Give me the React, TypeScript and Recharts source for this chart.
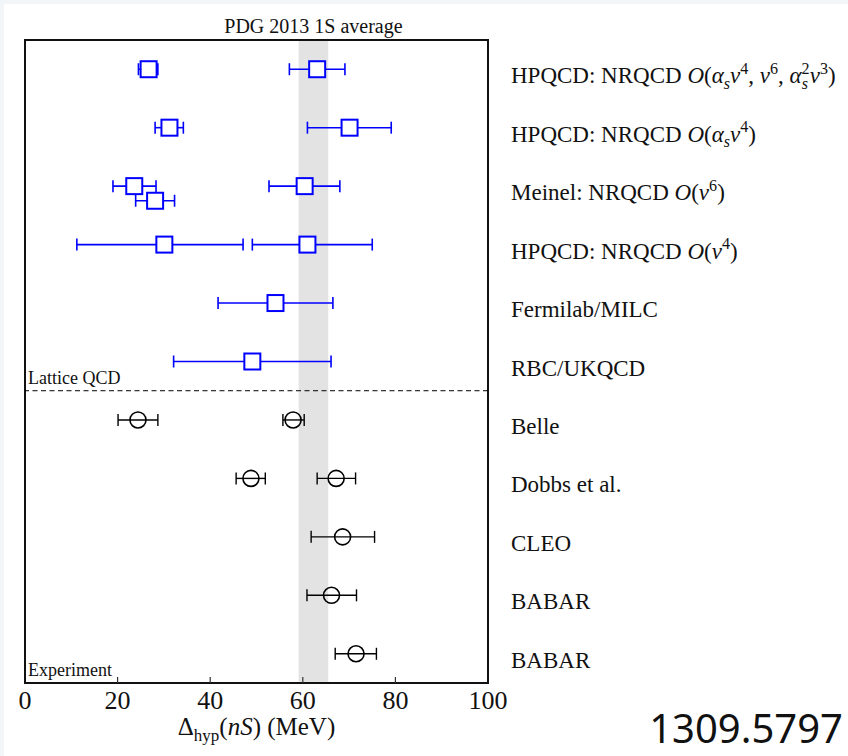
import React from 'react';
import {
  ComposedChart,
  Scatter,
  XAxis,
  YAxis,
  ErrorBar,
  ReferenceArea,
  ReferenceLine,
  Label,
} from 'recharts';

const SERIF = '"Liberation Serif", "Times New Roman", Times, serif';

// Row labels, top (index 10) to bottom (index 0). Math between $...$
const rowLabels = [
  'HPQCD: NRQCD $\\O(\\alpha_sv^4, v^6, \\alpha_s^2v^3)$',
  'HPQCD: NRQCD $\\O(\\alpha_sv^4)$',
  'Meinel: NRQCD $\\O(v^6)$',
  'HPQCD: NRQCD $\\O(v^4)$',
  'Fermilab/MILC',
  'RBC/UKQCD',
  'Belle',
  'Dobbs et al.',
  'CLEO',
  'BABAR',
  'BABAR',
];
const rowTicks = [10, 9, 8, 7, 6, 5, 4, 3, 2, 1, 0];
const xTicks = [0, 20, 40, 60, 80, 100];

// Lattice QCD results (blue squares)
const latticeRow = [10, 10, 9, 9, 8, 8, 7.75, 7, 7, 6, 5];
const latticeValue = [26.7, 63.1, 31.2, 70.1, 23.6, 60.4, 28.1, 30.1, 61.0, 54.1, 49.1];
const latticeErrLow = [2.2, 6.0, 3.1, 9.1, 4.6, 7.7, 4.2, 18.9, 11.9, 12.4, 17.0];
const latticeErrHigh = [2.0, 6.0, 3.0, 9.0, 4.7, 7.6, 4.2, 17.0, 14.0, 12.4, 17.0];

// Experimental results (black circles)
const expRow = [4, 4, 3, 3, 2, 1, 0];
const expValue = [24.4, 57.9, 48.8, 67.2, 68.6, 66.2, 71.5];
const expErrLow = [4.3, 2.2, 3.2, 4.1, 6.8, 5.3, 4.5];
const expErrHigh = [4.3, 2.4, 3.1, 4.2, 6.9, 5.4, 4.4];

// PDG 2013 1S average band
const pdgLow = 59.1;
const pdgHigh = 65.5;
const sectionDivider = 4.5;

const latticeData = latticeValue.map((v, i) => ({
  x: v,
  y: latticeRow[i],
  err: [latticeErrLow[i], latticeErrHigh[i]],
}));
const expData = expValue.map((v, i) => ({
  x: v,
  y: expRow[i],
  err: [expErrLow[i], expErrHigh[i]],
}));

type Seg = { t: string; it?: boolean; pos?: 'sub' | 'sup' };

function parseLabel(s: string): Seg[] {
  const out: Seg[] = [];
  s.split('$').forEach((p, i) => {
    if (i % 2 === 0) {
      if (p) out.push({ t: p });
      return;
    }
    let k = 0;
    let pending: 'sub' | 'sup' | undefined;
    while (k < p.length) {
      const ch = p[k];
      if (ch === '_') { pending = 'sub'; k++; continue; }
      if (ch === '^') { pending = 'sup'; k++; continue; }
      let tok = ch;
      let it = /[A-Za-z]/.test(ch);
      if (ch === '\\') {
        const m = /^\\([A-Za-z]+)/.exec(p.slice(k));
        const name = m ? m[1] : '';
        tok = name === 'alpha' ? 'α' : name === 'O' ? 'O' : name;
        it = true;
        k += m ? m[0].length : 1;
      } else {
        k++;
      }
      out.push({ t: tok, it, pos: pending });
      pending = undefined;
    }
  });
  return out;
}

const parsedLabels = rowLabels.map(parseLabel);

function MathText({ x, y, segs, size }: { x: number; y: number; segs: Seg[]; size: number }) {
  const offs: Record<string, number> = { sub: size * 0.25, sup: -size * 0.4 };
  let cur = 0;
  const nodes: React.ReactNode[] = [];
  segs.forEach((s, i) => {
    const target = s.pos ? offs[s.pos] : 0;
    const dy = target - cur;
    cur = target;
    const prev = segs[i - 1];
    const dx = s.pos === 'sup' && prev && prev.pos === 'sub' ? -size * 0.7 * 0.39 : 0;
    nodes.push(
      <tspan
        key={i}
        dy={dy}
        dx={dx || undefined}
        fontStyle={s.it ? 'italic' : 'normal'}
        fontSize={s.pos ? size * 0.7 : size}
      >
        {s.t}
      </tspan>
    );
  });
  return (
    <text x={x} y={y} fontFamily={SERIF} fontSize={size} fill="#111" style={{ whiteSpace: 'pre' }}>
      {nodes}
    </text>
  );
}

const RowTick = (p: any) => {
  const idx = rowTicks.indexOf(p.payload.value);
  if (idx < 0) return null;
  return <MathText x={p.x} y={p.y + 14} segs={parsedLabels[idx]} size={23} />;
};

const BOTTOM_MARGIN = 26;
const BottomTick = (p: any) => {
  const v = p.payload.value;
  const inner = v !== 0 && v !== 100;
  return (
    <g>
      {inner && (
        <line
          x1={p.x}
          x2={p.x}
          y1={p.y - BOTTOM_MARGIN}
          y2={p.y - BOTTOM_MARGIN - 6}
          stroke="#333"
          strokeWidth={1.2}
        />
      )}
      <text x={p.x} y={p.y} textAnchor="middle" fontFamily={SERIF} fontSize={26} fill="#111">
        {v}
      </text>
    </g>
  );
};

const TopTick = (p: any) => {
  const v = p.payload.value;
  if (v === 0 || v === 100) return null;
  return <line x1={p.x} x2={p.x} y1={p.y} y2={p.y + 6} stroke="#333" strokeWidth={1.2} />;
};

const XAxisTitle = (p: any) => {
  const vb = p.viewBox;
  const cx = vb.x + vb.width / 2;
  const y = vb.y + 52;
  return (
    <text x={cx} y={y} textAnchor="middle" fontFamily={SERIF} fontSize={25} fill="#111" style={{ whiteSpace: 'pre' }}>
      <tspan>Δ</tspan>
      <tspan dy={6} fontSize={17}>hyp</tspan>
      <tspan dy={-6}>(</tspan>
      <tspan fontStyle="italic">nS</tspan>
      <tspan>) (MeV)</tspan>
    </text>
  );
};

const LatticeLabel = (p: any) => {
  const vb = p.viewBox;
  return (
    <text x={vb.x + 3} y={vb.y - 7} fontFamily={SERIF} fontSize={18} fill="#111">
      Lattice QCD
    </text>
  );
};

const ExperimentLabel = (p: any) => {
  const vb = p.viewBox;
  return (
    <text x={vb.x + 3} y={vb.y + vb.height - 7} fontFamily={SERIF} fontSize={18} fill="#111">
      Experiment
    </text>
  );
};

const Square = (p: any) => (
  <rect x={p.cx - 8} y={p.cy - 8} width={16} height={16} fill="#fff" stroke="#0000ff" strokeWidth={2} />
);
const Circle = (p: any) => (
  <circle cx={p.cx} cy={p.cy} r={8} fill="none" stroke="#000" strokeWidth={1.6} />
);

export default function App() {
  return (
    <div style={{ position: 'absolute', left: 0, top: 0, width: 848, height: 756, background: '#f2f6f9' }}>
      <div style={{ position: 'absolute', left: 4, top: 4, width: 844, height: 752, background: '#fff' }} />
      <div style={{ position: 'absolute', left: 0, top: 0 }}>
        <ComposedChart width={848} height={756} margin={{ top: 30, right: 0, bottom: 33, left: 25 }}>
          <XAxis
            type="number"
            dataKey="x"
            domain={[0, 100]}
            ticks={xTicks}
            interval={0}
            height={40}
            tickSize={0}
            tickMargin={BOTTOM_MARGIN}
            axisLine={false}
            tickLine={false}
            tick={<BottomTick />}
            allowDataOverflow
          >
            <Label content={<XAxisTitle />} />
          </XAxis>
          <XAxis
            xAxisId="top"
            orientation="top"
            type="number"
            domain={[0, 100]}
            ticks={xTicks}
            interval={0}
            height={10}
            tickSize={0}
            tickMargin={0}
            axisLine={false}
            tickLine={false}
            tick={<TopTick />}
            allowDataOverflow
          />
          <YAxis
            orientation="right"
            type="number"
            dataKey="y"
            domain={[-0.5, 10.5]}
            ticks={rowTicks}
            interval={0}
            width={360}
            tickSize={0}
            tickMargin={23}
            axisLine={false}
            tickLine={false}
            tick={<RowTick />}
            allowDataOverflow
          />
          <ReferenceArea
            x1={pdgLow}
            x2={pdgHigh}
            fill="#e3e3e3"
            fillOpacity={1}
            stroke="none"
            ifOverflow="visible"
            label={{
              value: 'PDG 2013 1S average',
              position: 'top',
              offset: 7,
              fontSize: 20,
              fontFamily: SERIF,
              fill: '#111',
            }}
          />
          <ReferenceLine
            y={sectionDivider}
            stroke="#000"
            strokeWidth={1}
            strokeDasharray="5 3.5"
          >
            <Label content={<LatticeLabel />} />
          </ReferenceLine>
          <Scatter data={latticeData} shape={<Square />} isAnimationActive={false}>
            <ErrorBar dataKey="err" direction="x" width={6} stroke="#0000ff" strokeWidth={1.6} />
          </Scatter>
          <Scatter data={expData} shape={<Circle />} isAnimationActive={false}>
            <ErrorBar dataKey="err" direction="x" width={6} stroke="#000" strokeWidth={1.4} />
          </Scatter>
          <ReferenceArea
            x1={0}
            x2={100}
            y1={-0.5}
            y2={10.5}
            fill="none"
            stroke="#111"
            strokeWidth={2}
            ifOverflow="visible"
          >
            <Label content={<ExperimentLabel />} />
          </ReferenceArea>
        </ComposedChart>
      </div>
      <svg width={848} height={756} style={{ position: 'absolute', left: 0, top: 0, pointerEvents: 'none' }}>
        <text x={843} y={743} textAnchor="end" fontFamily='"Noto Sans", sans-serif' fontSize={40} fill="#111">
          1309.5797
        </text>
      </svg>
    </div>
  );
}
